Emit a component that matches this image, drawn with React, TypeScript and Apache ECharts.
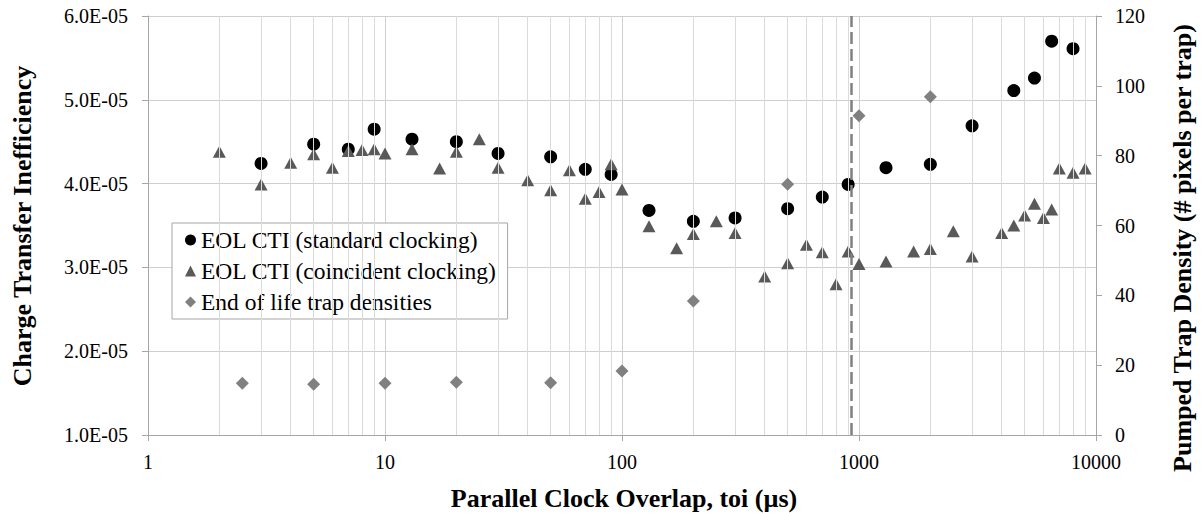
import React, { useEffect, useRef } from "react";
import * as echarts from "echarts";

// EOL CTI (standard clocking)
const stdX = [3, 5, 7, 9, 13, 20, 30, 50, 70, 90, 130, 200, 300, 500, 700, 900, 1300, 2000, 3000, 4500, 5500, 6500, 8000];
const stdY = [4.24e-5, 4.47e-5, 4.41e-5, 4.65e-5, 4.53e-5, 4.5e-5, 4.36e-5, 4.32e-5, 4.17e-5, 4.11e-5, 3.68e-5, 3.55e-5, 3.59e-5, 3.7e-5, 3.84e-5, 3.99e-5, 4.19e-5, 4.23e-5, 4.69e-5, 5.11e-5, 5.26e-5, 5.7e-5, 5.61e-5];

// EOL CTI (coincident clocking)
const coinX = [2, 3, 4, 5, 6, 7, 8, 9, 10, 13, 17, 20, 25, 30, 40, 50, 60, 70, 80, 90, 100, 130, 170, 200, 250, 300, 400, 500, 600, 700, 800, 900, 1000, 1300, 1700, 2000, 2500, 3000, 4000, 4500, 5000, 5500, 6000, 6500, 7000, 8000, 9000];
const coinY = [4.38e-5, 3.99e-5, 4.25e-5, 4.35e-5, 4.19e-5, 4.39e-5, 4.4e-5, 4.41e-5, 4.36e-5, 4.41e-5, 4.18e-5, 4.38e-5, 4.53e-5, 4.19e-5, 4.04e-5, 3.92e-5, 4.16e-5, 3.82e-5, 3.9e-5, 4.23e-5, 3.93e-5, 3.49e-5, 3.23e-5, 3.4e-5, 3.55e-5, 3.41e-5, 2.89e-5, 3.05e-5, 3.27e-5, 3.18e-5, 2.8e-5, 3.19e-5, 3.04e-5, 3.07e-5, 3.19e-5, 3.22e-5, 3.43e-5, 3.13e-5, 3.41e-5, 3.5e-5, 3.62e-5, 3.76e-5, 3.59e-5, 3.69e-5, 4.18e-5, 4.13e-5, 4.18e-5];

// End of life trap densities (right axis)
const trapX = [2.5, 5, 10, 20, 50, 100, 200, 500, 1000, 2000];
const trapY = [14.8, 14.5, 14.8, 15.1, 15.0, 18.3, 38.4, 71.8, 91.4, 96.9];

// dashed reference line
const refLineX = 923;

const seriesNames = ["EOL CTI (standard clocking)", "EOL CTI (coincident clocking)", "End of life trap densities"];
const xTitle = "Parallel Clock Overlap, toi (µs)";
const yLeftTitle = "Charge Transfer Inefficiency";
const yRightTitle = "Pumped Trap Density (# pixels per trap)";

const FONT = "'Liberation Serif', 'Times New Roman', serif";

function fmtExp(v: number): string {
  if (v === 0) return "0.0E+00";
  const e = Math.floor(Math.log10(Math.abs(v)) + 1e-9);
  const m = v / Math.pow(10, e);
  return m.toFixed(1) + "E" + (e < 0 ? "-" : "+") + String(Math.abs(e)).padStart(2, "0");
}

export default function App() {
  const ref = useRef<HTMLDivElement>(null);
  useEffect(() => {
    if (!ref.current) return;
    const chart = echarts.init(ref.current, undefined, { renderer: "svg" });

    const minorLines: { xAxis: number }[] = [];
    for (let d = 1; d < 10000; d *= 10) {
      for (let k = 2; k <= 9; k++) minorLines.push({ xAxis: k * d });
    }

    const axisColor = "#a6a6a6";
    const gridColor = "#cfcfcf";

    const option: any = {
      animation: false,
      backgroundColor: "#ffffff",
      grid: { left: 148, right: 106, top: 16, bottom: 78, containLabel: false },
      xAxis: {
        type: "log",
        logBase: 10,
        min: 1,
        max: 10000,
        axisLine: { show: true, lineStyle: { color: axisColor, width: 1 } },
        axisTick: { show: true, length: 6, lineStyle: { color: axisColor } },
        axisLabel: {
          fontFamily: FONT,
          fontSize: 20,
          color: "#000",
          margin: 17,
          formatter: (v: number) => String(Math.round(v)),
        },
        splitLine: { show: true, lineStyle: { color: gridColor, width: 1 } },
      },
      yAxis: [
        {
          type: "value",
          position: "left",
          min: 1e-5,
          max: 6e-5,
          interval: 1e-5,
          axisLine: { show: true, lineStyle: { color: axisColor } },
          axisTick: { show: true, length: 6, lineStyle: { color: axisColor } },
          axisLabel: { fontFamily: FONT, fontSize: 20, color: "#000", margin: 20, formatter: fmtExp },
          splitLine: { show: true, lineStyle: { color: gridColor, width: 1 } },
        },
        {
          type: "value",
          position: "right",
          min: 0,
          max: 120,
          interval: 20,
          axisLine: { show: true, lineStyle: { color: axisColor } },
          axisTick: { show: true, length: 6, lineStyle: { color: axisColor } },
          axisLabel: { fontFamily: FONT, fontSize: 20, color: "#000", margin: 19 },
          splitLine: { show: false },
        },
      ],
      legend: {
        show: true,
        orient: "vertical",
        left: 172,
        top: 223,
        data: seriesNames,
        itemWidth: 11,
        itemHeight: 11,
        itemGap: 5,
        padding: [4, 11, 4, 13],
        backgroundColor: "#ffffff",
        borderColor: "#a6a6a6",
        borderWidth: 1,
        borderRadius: 0,
        textStyle: { fontFamily: FONT, fontSize: 23.5, color: "#000", lineHeight: 26 },
      },
      series: [
        {
          name: "_grid",
          type: "line",
          data: [],
          z: 1,
          silent: true,
          markLine: {
            silent: true,
            symbol: "none",
            label: { show: false },
            lineStyle: { color: "#dadada", width: 1, type: "solid" },
            data: minorLines,
          },
        },
        {
          name: seriesNames[0],
          type: "scatter",
          yAxisIndex: 0,
          symbol: "circle",
          symbolSize: 13,
          itemStyle: { color: "#000000", opacity: 1 },
          data: stdX.map((x, i) => [x, stdY[i]]),
          z: 3,
        },
        {
          name: seriesNames[1],
          type: "scatter",
          yAxisIndex: 0,
          symbol: "triangle",
          symbolSize: [13, 12],
          itemStyle: { color: "#595959", opacity: 1 },
          data: coinX.map((x, i) => [x, coinY[i]]),
          z: 4,
        },
        {
          name: seriesNames[2],
          type: "scatter",
          yAxisIndex: 1,
          symbol: "diamond",
          symbolSize: [13, 13],
          itemStyle: { color: "#808080", opacity: 1 },
          data: trapX.map((x, i) => [x, trapY[i]]),
          z: 5,
        },
        {
          name: "_ref",
          type: "line",
          data: [],
          z: 2,
          silent: true,
          markLine: {
            silent: true,
            symbol: "none",
            label: { show: false },
            lineStyle: { color: "#808080", width: 2.5, type: [12, 5] },
            data: [{ xAxis: refLineX }],
          },
        },
      ],
      graphic: [
        {
          type: "text",
          x: 624,
          y: 498,
          style: {
            text: xTitle,
            font: "bold 26px " + FONT,
            fill: "#000",
            textAlign: "center",
            textVerticalAlign: "middle",
          },
        },
        {
          type: "text",
          x: 22,
          y: 226,
          rotation: Math.PI / 2,
          style: {
            text: yLeftTitle,
            font: "bold 26px " + FONT,
            fill: "#000",
            textAlign: "center",
            textVerticalAlign: "middle",
          },
        },
        {
          type: "text",
          x: 1182,
          y: 248,
          rotation: Math.PI / 2,
          style: {
            text: yRightTitle,
            font: "bold 26px " + FONT,
            fill: "#000",
            textAlign: "center",
            textVerticalAlign: "middle",
          },
        },
      ],
    };

    chart.setOption(option);
    return () => chart.dispose();
  }, []);

  return (
    <div
      ref={ref}
      style={{ position: "absolute", left: 0, top: 0, width: 1202, height: 513, background: "#fff" }}
    />
  );
}
